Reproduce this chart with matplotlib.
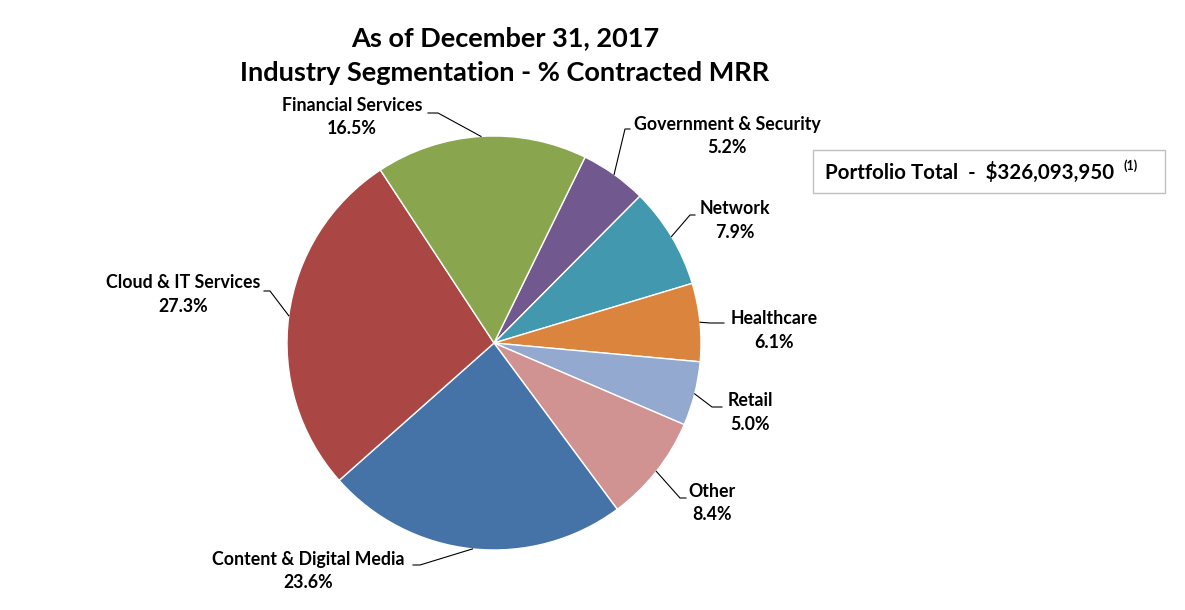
import matplotlib
matplotlib.use('Agg')
import matplotlib.pyplot as plt
import numpy as np

plt.rcParams['font.family'] = ['Lato', 'DejaVu Sans']
plt.rcParams['font.weight'] = 'bold'

segments = ["Government & Security", "Network", "Healthcare", "Retail", "Other",
            "Content & Digital Media", "Cloud & IT Services", "Financial Services"]
shares = [5.2, 7.9, 6.1, 5.0, 8.4, 23.6, 27.3, 16.5]
colors = ['#71588F', '#4198AF', '#DB843D', '#93A9CF', '#D19392',
          '#4572A7', '#AA4643', '#89A54E']
title_lines = ["As of December 31, 2017", "Industry Segmentation - % Contracted MRR"]
total_text = "Portfolio Total  -  $326,093,950"

W, H = 1185, 610
fig = plt.figure(figsize=(W / 100, H / 100), dpi=100)

# pie centre / radius in pixels
cx, cy, r = 494, 343, 207
ax = fig.add_axes([(cx - r) / W, (H - cy - r) / H, 2 * r / W, 2 * r / H])
wedges, _ = ax.pie(shares, colors=colors, startangle=63.9, counterclock=False,
                   radius=1, wedgeprops=dict(edgecolor='white', linewidth=1))
ax.set_xlim(-1, 1)
ax.set_ylim(-1, 1)
ax.set_aspect('equal')
ax.axis('off')

def px(x, y):
    return ((x - cx) / r, (cy - y) / r)

# label name-line centre (px) and leader knee points (px), same order as segments
label_pos = [(727, 124), (735, 209), (774, 319), (750, 401), (712, 492),
             (308, 559), (183, 283), (352, 105)]
leaders = [[(630, 129), (625, 129)],
           [(695, 215), (690, 215)],
           [(724, 323), (710, 323)],
           [(722, 407), (712, 407)],
           [(686, 498), (680, 498)],
           [(413, 565), (420, 565)],
           [(264, 291), (270, 291)],
           [(428, 113), (438, 113)]]

for w, name, val, pos, knee in zip(wedges, segments, shares, label_pos, leaders):
    mid = np.deg2rad((w.theta1 + w.theta2) / 2)
    ex, ey = np.cos(mid), np.sin(mid)
    pts = [px(*p) for p in knee] + [(ex, ey)]
    ax.plot([p[0] for p in pts], [p[1] for p in pts], color='black', lw=0.8,
            clip_on=False)
    tx, ty = px(*pos)
    ax.text(tx, ty, name, ha='center', va='center', fontsize=12.8,
            fontweight='bold')
    tx, ty = px(pos[0], pos[1] + 23)
    ax.text(tx, ty, f"{val:.1f}%", ha='center', va='center', fontsize=12.8,
            fontweight='bold')

for i, line in enumerate(title_lines):
    fig.text(505 / W, 1 - (38 + 35 * i) / H, line, ha='center', va='center',
             fontsize=19.5, fontweight='bold')

# portfolio total box
fig.patches.append(plt.Rectangle((813 / W, 1 - 193 / H), 352 / W, 43 / H,
                                 transform=fig.transFigure, fill=False,
                                 edgecolor='#BFBFBF', linewidth=1))
t = fig.text(825 / W, 1 - 172 / H, total_text, ha='left', va='center',
             fontsize=14.8, fontweight='bold')
fig.text(1123 / W, 1 - 166 / H, "(1)", ha='left', va='center',
         fontsize=9, fontweight='bold')

fig.savefig('out.png', dpi=100, facecolor='white')
